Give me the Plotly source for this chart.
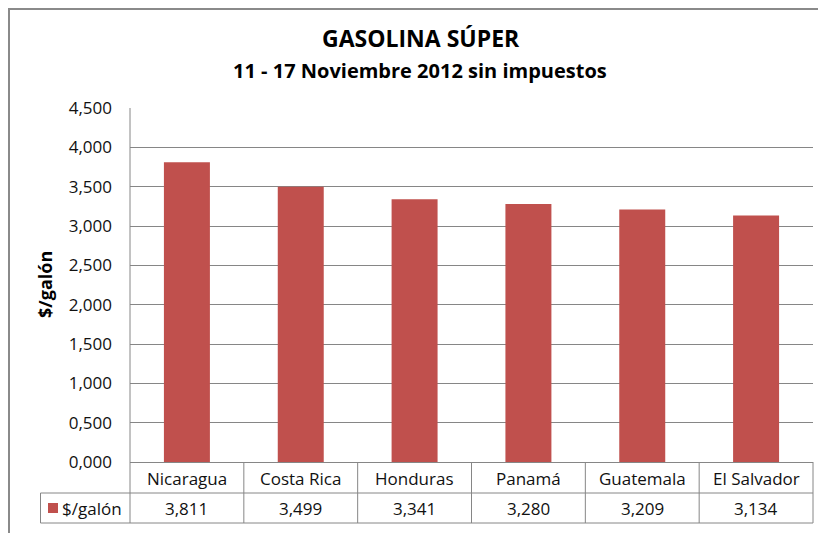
import plotly.graph_objects as go

# ---- data ----
categories = ["Nicaragua", "Costa Rica", "Honduras", "Panamá", "Guatemala", "El Salvador"]
values = [3.811, 3.499, 3.341, 3.280, 3.209, 3.134]
series_name = "$/galón"
title_text = "GASOLINA SÚPER"
subtitle_text = "11 - 17 Noviembre 2012 sin impuestos"
y_ticks = [0, 0.5, 1.0, 1.5, 2.0, 2.5, 3.0, 3.5, 4.0, 4.5]

# ---- layout geometry (page pixels of the reference) ----
OFF = 8                      # page body margin around the plot div
PAGE_W, PAGE_H = 826, 533
W, H = PAGE_W - OFF, PAGE_H - OFF
PL, PR, PT, PB = 130, 813, 108, 462   # plot area in page pixels
L, T = PL - OFF, PT - OFF
R = W - (PR - OFF)
B = H - (PB - OFF)
PW = W - L - R
PH = H - T - B
BAR = "#C0504D"
GRID = "#868686"
FONT = "Open Sans, sans-serif"
TXT = "#111111"
FS = 17


def px(x):
    return (x - PL) / PW


def py(y):
    return (PB - y) / PH


fig = go.Figure()
fig.add_trace(go.Bar(x=categories, y=values, marker=dict(color=BAR, line=dict(width=0)),
                     name=series_name, showlegend=False, hoverinfo="x+y"))

shapes = []
# outer chart frame
shapes.append(dict(type="rect", xref="paper", yref="paper", x0=px(OFF + 1), x1=px(PAGE_W + 10),
                   y0=py(PAGE_H + 10), y1=py(OFF + 1), line=dict(color="#8a8a8a", width=2)))
# table horizontal lines
for yy in (493, 523):
    shapes.append(dict(type="line", xref="paper", yref="paper", x0=px(40.5), x1=1,
                       y0=py(yy), y1=py(yy), line=dict(color=GRID, width=1)))
# vertical axis line extended through table
shapes.append(dict(type="line", xref="paper", yref="paper", x0=0, x1=0,
                   y0=py(523), y1=1, line=dict(color=GRID, width=1)))
# legend cell left border
shapes.append(dict(type="line", xref="paper", yref="paper", x0=px(40.5), x1=px(40.5),
                   y0=py(523), y1=py(493), line=dict(color=GRID, width=1)))
# column separators
for i in range(len(categories) - 1):
    shapes.append(dict(type="line", xref="x", yref="paper", x0=i + 0.5, x1=i + 0.5,
                       y0=py(523), y1=0, line=dict(color=GRID, width=1)))
shapes.append(dict(type="line", xref="paper", yref="paper", x0=1, x1=1,
                   y0=py(523), y1=0, line=dict(color=GRID, width=1)))
# legend key
shapes.append(dict(type="rect", xref="paper", yref="paper", x0=px(48), x1=px(58),
                   y0=py(513), y1=py(503), fillcolor=BAR, line=dict(width=0)))

annotations = []
annotations.append(dict(text="<b>" + title_text + "</b>", xref="paper", yref="paper",
                        x=px(421), y=py(38), showarrow=False, xanchor="center", yanchor="middle",
                        font=dict(size=23, color="#000", family=FONT)))
annotations.append(dict(text="<b>" + subtitle_text + "</b>", xref="paper", yref="paper",
                        x=px(420), y=py(71), showarrow=False, xanchor="center", yanchor="middle",
                        font=dict(size=20, color="#000", family=FONT)))
annotations.append(dict(text="<b>" + series_name + "</b>", xref="paper", yref="paper",
                        x=px(45), y=py(285), showarrow=False, textangle=-90,
                        xanchor="center", yanchor="middle",
                        font=dict(size=18, color="#000", family=FONT)))
for c, v in zip(categories, values):
    annotations.append(dict(text=c, xref="x", yref="paper", x=c, y=py(478), showarrow=False,
                            xanchor="center", yanchor="middle",
                            font=dict(size=FS, color=TXT, family=FONT)))
    annotations.append(dict(text=f"{v:.3f}".replace(".", ","), xref="x", yref="paper", x=c,
                            y=py(508), showarrow=False, xanchor="center", yanchor="middle",
                            font=dict(size=FS, color=TXT, family=FONT)))
annotations.append(dict(text=series_name, xref="paper", yref="paper", x=px(60), y=py(508),
                        showarrow=False, xanchor="left", yanchor="middle",
                        font=dict(size=FS, color=TXT, family=FONT)))

fig.update_layout(
    width=W, height=H,
    margin=dict(l=L, r=R, t=T, b=B, autoexpand=False),
    paper_bgcolor="white", plot_bgcolor="white",
    separators=",.",
    bargap=0.596,
    showlegend=False,
    shapes=shapes,
    annotations=annotations,
    font=dict(family=FONT, color=TXT),
    xaxis=dict(type="category", range=[-0.5, len(categories) - 0.5], showticklabels=False,
               showgrid=False, zeroline=False, showline=False, ticks=""),
    yaxis=dict(range=[0, 4.5], tickvals=y_ticks, tickformat=".3f", showgrid=True,
               gridcolor=GRID, gridwidth=1, zeroline=True, zerolinecolor=GRID, zerolinewidth=1,
               showline=False, ticks="", ticklabelstandoff=17,
               tickfont=dict(size=FS, color=TXT, family=FONT)),
)

fig.write_html("out.html")
